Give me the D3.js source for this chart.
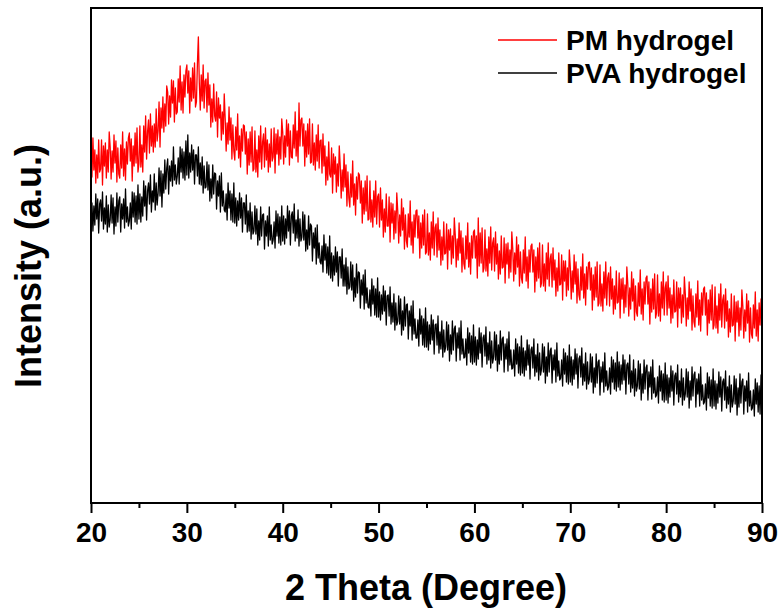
<!DOCTYPE html>
<html><head><meta charset="utf-8">
<script src="https://cdn.jsdelivr.net/npm/d3@7"></script>
<style>body{margin:0;background:#fff}svg{display:block}</style>
</head><body>
<svg id="chart" width="783" height="615"></svg>
<script>
const thetaStart = 20;
const thetaStep = 0.1;

const pmHydrogel = [
359,326,365,333,353,320,348,325,363,331, 334,363,318,357,337,360,325,353,331,371,
356,324,352,331,368,340,362,321,355,329, 325,358,335,371,327,354,323,361,339,365,
370,342,364,322,357,337,370,340,375,331, 339,377,336,358,331,377,351,387,344,371,
383,350,389,357,377,351,379,356,394,362, 372,401,356,395,375,406,371,399,377,417,
411,379,407,386,423,400,422,381,415,389, 391,424,401,437,393,421,390,428,406,432,
438,410,432,390,425,402,435,405,440,396, 401,439,466,420,393,428,402,438,395,422,
424,391,430,398,418,376,404,381,419,387, 382,411,366,405,385,398,363,391,369,409,
384,352,380,359,396,363,385,344,378,352, 343,376,353,389,345,367,336,374,352,378,
377,349,371,329,364,338,371,341,376,332, 334,372,331,353,326,367,341,377,334,361,
369,336,375,343,363,331,359,336,374,342, 346,375,330,369,349,373,338,366,344,384,
371,339,367,346,383,357,379,338,372,346, 345,378,355,391,347,372,341,400,357,383,
385,357,379,337,372,346,379,349,384,340, 341,379,338,360,333,368,342,378,335,362,
363,330,369,337,357,318,346,323,361,329, 326,355,310,349,329,346,311,339,317,357,
337,305,333,312,349,316,338,297,331,305, 296,329,306,342,298,319,288,326,304,330,
328,300,322,280,315,289,322,292,327,283, 284,322,281,303,276,312,286,322,279,306,
309,276,315,283,303,266,294,271,309,277, 277,306,261,300,280,299,264,292,270,310,
292,260,288,267,304,273,295,254,288,262, 256,289,266,302,258,281,250,288,266,292,
293,265,287,245,280,255,288,258,293,249, 251,289,248,270,243,281,255,291,248,275,
279,246,285,253,273,238,266,243,281,249, 250,279,234,273,253,274,239,267,245,285,
268,236,264,243,280,250,272,231,265,239, 234,267,244,280,236,260,229,267,245,271,
273,245,267,225,285,237,270,240,275,231, 235,273,232,254,227,266,240,276,233,260,
265,232,271,239,259,224,252,229,267,235, 236,265,220,259,239,260,225,253,231,271,
254,222,250,229,266,236,258,217,251,225, 220,253,230,266,222,246,215,253,231,257,
259,231,253,211,246,222,255,225,260,216, 220,258,217,239,212,250,224,260,217,244,
249,216,255,223,243,207,235,212,250,218, 219,248,203,242,222,242,207,235,213,253,
236,204,232,211,248,219,241,200,234,208, 203,236,213,249,205,229,198,236,214,240,
241,213,235,193,228,203,236,206,241,197, 200,238,197,219,192,231,205,241,198,225,
230,197,236,204,224,189,217,194,232,200, 201,230,185,224,204,225,190,218,196,236,
219,187,215,194,231,202,224,183,217,191, 187,220,197,233,189,214,183,221,199,225,
227,199,221,179,214,191,224,194,229,185, 190,228,187,209,182,221,195,231,188,215,
221,188,227,195,215,180,208,185,223,191, 192,221,176,215,195,215,180,208,186,226,
209,177,205,184,221,192,214,173,207,181, 176,209,186,222,178,203,172,210,188,214,
216,188,210,168,203,180,213,183,218,174, 178,216,175,197,170,209,183,219,176,203,
208,175,214,182,202,166,194,171,209,177, 178,207,162,201,181,202,167,195,173,213,
197,165,193,172,209,180,202,161,195,169, 165,198,175,211,167,193,162,200,178,204,
183
];

const pvaHydrogel = [
275,300,272,297,278,309,284,304,270,299, 303,282,311,274,295,279,307,271,298,276,
283,308,280,305,269,296,277,310,281,302, 306,271,299,284,304,275,314,281,296,277,
282,300,274,311,286,310,281,307,279,318, 284,309,281,306,287,322,297,317,283,312,
320,299,328,291,312,301,329,293,320,298, 310,335,307,332,296,329,310,343,314,335,
344,309,337,322,342,317,356,323,338,319, 327,345,319,356,331,354,325,351,323,362,
328,368,325,350,331,358,333,353,319,348, 348,327,356,319,340,318,346,310,337,315,
316,341,313,338,302,324,305,338,309,330, 329,294,322,307,327,291,330,297,312,293,
291,309,283,320,295,312,283,309,281,320, 280,305,277,302,283,310,285,305,271,300,
300,279,308,271,292,272,300,264,291,269, 272,297,269,294,258,282,263,296,267,288,
289,254,282,267,287,257,296,263,278,259, 263,281,255,292,267,289,260,286,258,297,
262,287,259,284,265,297,272,292,258,287, 291,270,299,262,283,265,293,257,284,262,
266,291,263,288,252,273,254,287,258,279, 277,242,270,255,275,239,278,245,260,241,
239,257,231,268,243,259,230,256,228,267, 225,250,222,247,228,256,231,251,217,246,
246,225,254,217,238,217,245,209,236,214, 216,241,213,238,202,225,206,239,210,231,
230,195,223,208,228,194,233,200,215,196, 195,213,187,224,199,217,188,214,186,225,
186,211,183,208,189,217,192,212,178,207, 208,187,216,179,200,181,209,173,200,178,
182,207,179,204,168,192,173,206,177,198, 199,164,192,177,197,163,202,169,184,165,
165,183,157,194,169,187,158,184,156,195, 156,181,153,178,159,188,163,183,149,178,
179,158,187,150,171,154,182,146,173,151, 156,181,153,178,142,168,149,182,153,174,
177,142,170,155,175,143,182,149,164,145, 146,164,138,175,150,170,141,167,139,178,
141,166,138,163,144,175,150,170,136,165, 168,147,176,139,160,143,171,135,162,140,
146,171,143,168,132,158,139,172,143,164, 166,131,159,144,164,132,171,138,153,134,
135,153,127,164,139,159,130,156,128,167, 130,155,127,152,133,163,138,158,124,153,
156,135,164,127,148,131,159,123,150,128, 134,159,131,156,120,146,127,160,131,152,
155,120,148,133,153,121,160,127,142,123, 125,143,117,154,129,150,121,147,119,158,
121,146,118,143,124,154,129,149,115,144, 147,126,155,118,139,122,150,114,141,119,
124,149,121,146,110,135,116,149,120,141, 143,108,136,121,141,111,150,117,132,113,
117,135,109,146,121,143,114,140,112,151, 116,141,113,138,119,148,123,143,109,138,
140,119,148,111,132,115,143,107,134,112, 117,142,114,139,103,129,110,143,114,135,
138,103,131,116,136,104,143,110,125,106, 108,126,100,137,112,132,103,129,101,140,
103,128,100,125,106,137,112,132,98,127, 130,109,138,101,122,106,134,98,125,103,
109,134,106,131,95,122,103,136,107,128, 131,96,124,109,129,97,136,103,118,99,
101,119,93,130,105,126,97,123,95,134, 97,122,94,119,100,131,106,126,92,121,
124,103,132,95,116,99,127,91,118,96, 102,127,99,124,88,115,96,129,100,121,
124,89,117,102,122,91,130,97,112,93, 95,113,87,124,99,120,91,117,89,128,
104
];

const xMajorTicks = [20, 30, 40, 50, 60, 70, 80, 90];
const xMinorTicks = [25, 35, 45, 55, 65, 75, 85];
const seriesNames = ["PM hydrogel", "PVA hydrogel"];
const xTitle = "2 Theta (Degree)";
const yTitle = "Intensity (a.u.)";

const svg = d3.select("#chart");
const pL = 91, pR = 762, pT = 8, pB = 503;
const x = d3.scaleLinear().domain([20, 90]).range([pL, pR]);
const y = d3.scaleLinear().domain([0, 495]).range([pB, pT]);

const toPoints = arr => arr.map((v, i) => [thetaStart + i * thetaStep, v]);
const line = d3.line().x(d => x(d[0])).y(d => y(d[1]));

const font = "'Liberation Sans', Arial, Helvetica, sans-serif";

svg.append("clipPath").attr("id", "clip")
  .append("rect").attr("x", pL).attr("y", pT).attr("width", pR-pL).attr("height", pB-pT);

const plot = svg.append("g").attr("clip-path", "url(#clip)");
plot.append("path").datum(toPoints(pmHydrogel)).attr("d", line)
  .attr("fill", "none").attr("stroke", "#ff0000").attr("stroke-width", 1.3).attr("stroke-linejoin", "round");
plot.append("path").datum(toPoints(pvaHydrogel)).attr("d", line)
  .attr("fill", "none").attr("stroke", "#000000").attr("stroke-width", 1.3).attr("stroke-linejoin", "round");

// frame
svg.append("rect").attr("x", pL).attr("y", pT).attr("width", pR-pL).attr("height", pB-pT)
  .attr("fill", "none").attr("stroke", "#000").attr("stroke-width", 2);

// bottom axis: major ticks with labels, minor ticks without
const axMajor = svg.append("g").attr("transform", `translate(0,${pB})`)
  .call(d3.axisBottom(x).tickValues(xMajorTicks).tickSize(10).tickPadding(9).tickFormat(d3.format("d")));
axMajor.select(".domain").remove();
axMajor.selectAll("line").attr("stroke", "#000").attr("stroke-width", 2);
axMajor.selectAll("text").attr("font-family", font).attr("font-weight", "bold")
  .attr("font-size", 28).attr("fill", "#000");

const axMinor = svg.append("g").attr("transform", `translate(0,${pB})`)
  .call(d3.axisBottom(x).tickValues(xMinorTicks).tickSize(5).tickFormat(""));
axMinor.select(".domain").remove();
axMinor.selectAll("line").attr("stroke", "#000").attr("stroke-width", 2);

// titles
svg.append("text").attr("x", 426).attr("y", 600).attr("text-anchor", "middle")
  .attr("font-family", font).attr("font-weight", "bold").attr("font-size", 36).text(xTitle);
svg.append("text").attr("transform", "translate(41,266) rotate(-90)").attr("text-anchor", "middle")
  .attr("font-family", font).attr("font-weight", "bold").attr("font-size", 36).text(yTitle);

// legend
const legendColors = ["#ff0000", "#000000"];
seriesNames.forEach((name, i) => {
  const ly = 40 + i * 33;
  svg.append("line").attr("x1", 498).attr("x2", 557).attr("y1", ly).attr("y2", ly)
    .attr("stroke", legendColors[i]).attr("stroke-width", 1.5);
  svg.append("text").attr("x", 566).attr("y", ly + 10).attr("font-family", font)
    .attr("font-weight", "bold").attr("font-size", 28).text(name);
});
</script>
</body></html>
